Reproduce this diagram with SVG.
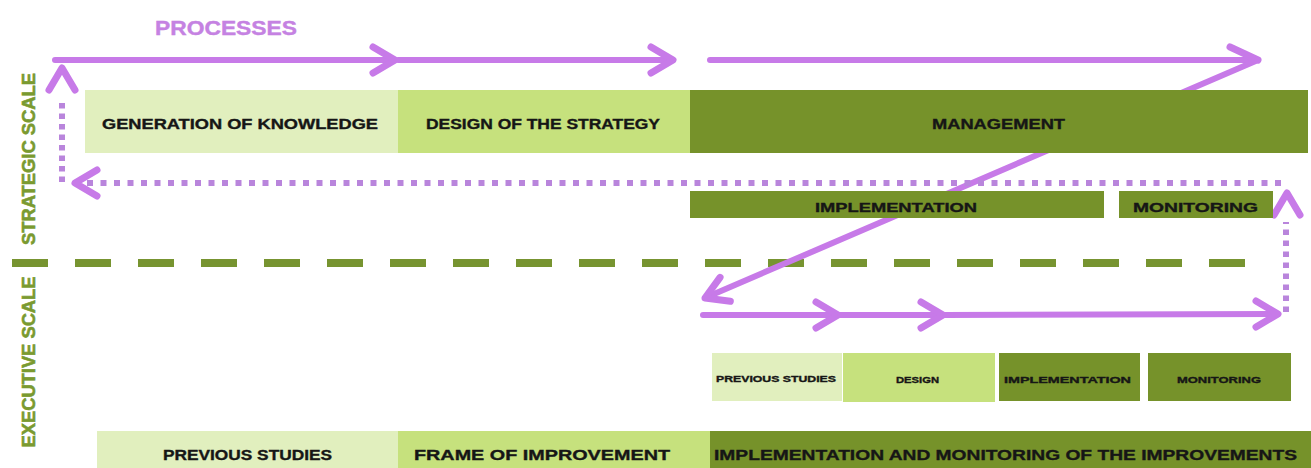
<svg xmlns="http://www.w3.org/2000/svg" xmlns:xlink="http://www.w3.org/1999/xlink" width="1311" height="468" viewBox="0 0 1311 468">
  <style>
    .light { fill: #e1efbe; }
    .mid { fill: #c6e17d; }
    .dark { fill: #76922a; }
    .lbl { font-family: "Liberation Sans", Arial, sans-serif; font-weight: bold; fill: #161616; stroke: #161616; stroke-width: 0.35; }
    .scale { font-family: "Liberation Sans", Arial, sans-serif; font-weight: bold; fill: #7a9a30; stroke: #7a9a30; stroke-width: 0.6; font-size: 18px; }
    .flow { fill: none; stroke: #c77ae8; stroke-width: 6; stroke-linecap: round; }
    .head { fill: none; stroke: #c77ae8; stroke-width: 7; stroke-linecap: round; stroke-linejoin: round; }
    .dots { fill: none; stroke: #b985dc; stroke-width: 6; }
    .split { fill: none; stroke: #779430; stroke-width: 8; stroke-dasharray: 36 27; }
  </style>
  <defs>
    <!-- open chevron arrowhead, tip at the origin, pointing along +x -->
    <path id="chev" d="M-22,-13 L0,0 L-22,13"/>
  </defs>

  <rect width="1311" height="468" fill="#ffffff"/>

  <!-- scale labels -->
  <text class="scale" transform="translate(35,159) rotate(-90)" text-anchor="middle" textLength="172" lengthAdjust="spacingAndGlyphs">STRATEGIC SCALE</text>
  <text class="scale" transform="translate(35,362) rotate(-90)" text-anchor="middle" textLength="171" lengthAdjust="spacingAndGlyphs">EXECUTIVE SCALE</text>

  <!-- boundary between the strategic and executive scales -->
  <line class="split" x1="12" y1="263" x2="1245" y2="263"/>

  <text x="155" y="35" font-family="Liberation Sans, Arial, sans-serif" font-weight="bold" font-size="21" fill="#c582e2" stroke="#c582e2" stroke-width="0.4" textLength="142" lengthAdjust="spacingAndGlyphs">PROCESSES</text>

  <g id="connectors">
    <!-- strategic process arrows -->
    <line class="flow" x1="55" y1="60" x2="393" y2="60"/>
    <use href="#chev" class="head" transform="translate(395,60)"/>
    <line class="flow" x1="398" y1="60" x2="671" y2="60"/>
    <use href="#chev" class="head" transform="translate(673,60)"/>
    <line class="flow" x1="710" y1="60" x2="1256" y2="60"/>
    <polyline class="head" points="1230,47 1258,60"/>
    <!-- descent from strategic management to the executive level -->
    <line class="flow" x1="1258" y1="60" x2="707" y2="297"/>
    <use href="#chev" class="head" transform="translate(705,298) rotate(156.7)"/>

    <!-- executive process arrows -->
    <line class="flow" x1="703" y1="315" x2="836" y2="315"/>
    <use href="#chev" class="head" transform="translate(838,315)"/>
    <line class="flow" x1="840" y1="315" x2="941" y2="315"/>
    <use href="#chev" class="head" transform="translate(943,315)"/>
    <line class="flow" x1="945" y1="315" x2="1276" y2="314"/>
    <use href="#chev" class="head" transform="translate(1278,314)"/>

    <!-- feedback loops -->
    <line class="dots" x1="1286" y1="312" x2="1286" y2="222" stroke-dasharray="5.5 5.5"/>
    <use href="#chev" class="head" transform="translate(1287,193) rotate(-90)"/>
    <line class="dots" x1="1281" y1="183" x2="80" y2="183" stroke-dasharray="6 7.5"/>
    <use href="#chev" class="head" transform="translate(75,183) rotate(180)"/>
    <line class="dots" x1="62" y1="182" x2="62" y2="98" stroke-dasharray="5.5 5"/>
    <use href="#chev" class="head" transform="translate(62,68) rotate(-90)"/>
  </g>

  <!-- strategic scale -->
  <g id="generation-of-knowledge">
    <rect class="light" x="85" y="90" width="313" height="63"/>
    <text class="lbl" x="102" y="129" font-size="14" textLength="276" lengthAdjust="spacingAndGlyphs">GENERATION OF KNOWLEDGE</text>
  </g>
  <g id="design-of-the-strategy">
    <rect class="mid" x="398" y="90" width="292" height="63"/>
    <text class="lbl" x="426" y="129" font-size="14" textLength="234" lengthAdjust="spacingAndGlyphs">DESIGN OF THE STRATEGY</text>
  </g>
  <g id="management">
    <rect class="dark" x="690" y="90" width="618" height="63"/>
    <text class="lbl" x="932" y="129" font-size="14" textLength="133" lengthAdjust="spacingAndGlyphs">MANAGEMENT</text>
  </g>
  <g id="strategic-implementation">
    <rect class="dark" x="690" y="191" width="414" height="27"/>
    <text class="lbl" x="815" y="212" font-size="13" textLength="162" lengthAdjust="spacingAndGlyphs">IMPLEMENTATION</text>
  </g>
  <g id="strategic-monitoring">
    <rect class="dark" x="1119" y="191" width="154" height="27"/>
    <text class="lbl" x="1133" y="212" font-size="13" textLength="125" lengthAdjust="spacingAndGlyphs">MONITORING</text>
  </g>

  <!-- executive scale: project stages -->
  <g id="stage-previous-studies">
    <rect class="light" x="712" y="353" width="130" height="48"/>
    <text class="lbl" x="716" y="382" font-size="9" textLength="120" lengthAdjust="spacingAndGlyphs">PREVIOUS STUDIES</text>
  </g>
  <g id="stage-design">
    <rect class="mid" x="843" y="353" width="152" height="49"/>
    <text class="lbl" x="896" y="383" font-size="9" textLength="43" lengthAdjust="spacingAndGlyphs">DESIGN</text>
  </g>
  <g id="stage-implementation">
    <rect class="dark" x="999" y="353" width="141" height="48"/>
    <text class="lbl" x="1004" y="383" font-size="9" textLength="127" lengthAdjust="spacingAndGlyphs">IMPLEMENTATION</text>
  </g>
  <g id="stage-monitoring">
    <rect class="dark" x="1148" y="353" width="143" height="48"/>
    <text class="lbl" x="1177" y="383" font-size="9" textLength="84" lengthAdjust="spacingAndGlyphs">MONITORING</text>
  </g>

  <!-- executive scale: phases -->
  <g id="previous-studies">
    <rect class="light" x="97" y="431" width="301" height="37"/>
    <text class="lbl" x="163" y="460" font-size="15" textLength="169" lengthAdjust="spacingAndGlyphs">PREVIOUS STUDIES</text>
  </g>
  <g id="frame-of-improvement">
    <rect class="mid" x="398" y="431" width="312" height="37"/>
    <text class="lbl" x="414" y="460" font-size="15" textLength="256" lengthAdjust="spacingAndGlyphs">FRAME OF IMPROVEMENT</text>
  </g>
  <g id="implementation-and-monitoring">
    <rect class="dark" x="710" y="431" width="601" height="37"/>
    <text class="lbl" x="714" y="460" font-size="15" textLength="583" lengthAdjust="spacingAndGlyphs">IMPLEMENTATION AND MONITORING OF THE IMPROVEMENTS</text>
  </g>
</svg>
